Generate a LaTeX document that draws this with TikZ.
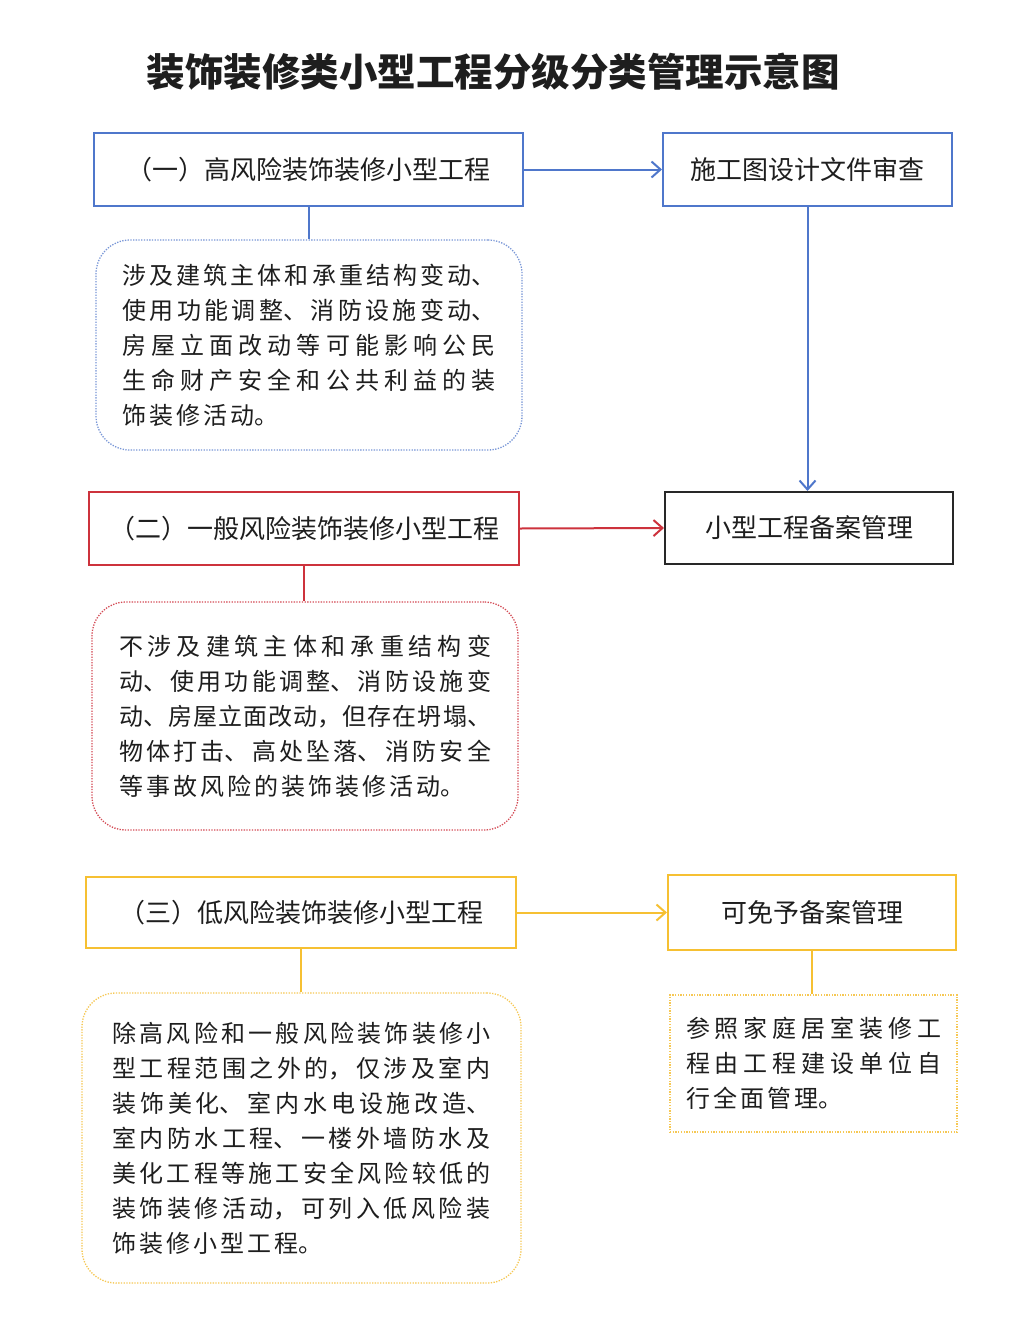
\documentclass[tikz,border=0pt]{standalone}
\usepackage{fontspec}
\newfontfamily\cjk{Noto Sans CJK SC}
\usetikzlibrary{arrows.meta}

\definecolor{blueline}{RGB}{79,119,203}
\definecolor{bluedot}{RGB}{120,150,215}
\definecolor{redline}{RGB}{205,50,60}
\definecolor{reddot}{RGB}{212,75,85}
\definecolor{yellowline}{RGB}{246,192,50}
\definecolor{yellowdot}{RGB}{246,200,85}
\definecolor{blackline}{RGB}{40,40,40}
\definecolor{textgray}{RGB}{30,30,30}

% fonts for the title, the boxes and the notes
\newcommand\titlefont{\cjk\bfseries\fontsize{38.5}{42}\selectfont}
\newcommand\headfont{\cjk\fontsize{26}{30}\selectfont}
\newcommand\notefont{\cjk\fontsize{24}{35}\selectfont
  \XeTeXlinebreaklocale "zh"\XeTeXlinebreakskip=3pt plus 6pt minus 3pt\relax
  \tolerance=9999\relax}

\begin{document}
\begin{tikzpicture}[x=1pt, y=-1pt,
  head/.style={draw, line width=2pt, rectangle, inner sep=0pt, font=\headfont, text=textgray},
  note/.style={draw, line width=1.3pt, dash pattern=on 1.3pt off 1.4pt, rounded corners=34pt,
    inner sep=0pt, font=\notefont, text=textgray, align=justify},
  link/.style={line width=2pt},
  flow/.style={line width=2pt, -{Straight Barb[length=9pt,width=16pt]}}]
\useasboundingbox[fill=white] (0,0) rectangle (1024,1322);

\node[font=\titlefont, text=textgray] (title) at (493,72) {装饰装修类小型工程分级分类管理示意图};

% high risk
\node[head, draw=blueline, minimum width=429pt, minimum height=73pt] (highbox) at (308.5,169.5) {（一）高风险装饰装修小型工程};
\node[head, draw=blueline, minimum width=289pt, minimum height=73pt] (planbox) at (807.5,169.5) {施工图设计文件审查};
\node[note, draw=bluedot, minimum width=426pt, minimum height=210pt, text width=373pt] (hightext) at (309,345) {涉及建筑主体和承重结构变动、\linebreak
使用功能调整、消防设施变动、\linebreak
房屋立面改动等可能影响公民\linebreak
生命财产安全和公共利益的装\linebreak
饰装修活动。};

% general risk
\node[head, draw=redline, minimum width=430pt, minimum height=73pt] (midbox) at (304,528.5) {（二）一般风险装饰装修小型工程};
\node[head, draw=blackline, minimum width=288pt, minimum height=72pt] (recordbox) at (809,528) {小型工程备案管理};
\node[note, draw=reddot, minimum width=426pt, minimum height=228pt, text width=372pt] (midtext) at (305,716) {不涉及建筑主体和承重结构变\linebreak
动、使用功能调整、消防设施变\linebreak
动、房屋立面改动，但存在坍塌、\linebreak
物体打击、高处坠落、消防安全\linebreak
等事故风险的装饰装修活动。};

% low risk
\node[head, draw=yellowline, minimum width=430pt, minimum height=71pt] (lowbox) at (301,912.5) {（三）低风险装饰装修小型工程};
\node[head, draw=yellowline, minimum width=288pt, minimum height=75pt] (exemptbox) at (812,912.5) {可免予备案管理};
\node[note, draw=yellowdot, minimum width=439pt, minimum height=290pt, text width=378pt] (lowtext) at (301.5,1138) {除高风险和一般风险装饰装修小\linebreak
型工程范围之外的，仅涉及室内\linebreak
装饰美化、室内水电设施改造、\linebreak
室内防水工程、一楼外墙防水及\linebreak
美化工程等施工安全风险较低的\linebreak
装饰装修活动，可列入低风险装\linebreak
饰装修小型工程。};
\node[note, draw=yellowdot, rounded corners=0pt, minimum width=287pt, minimum height=137pt, text width=255pt] (exempttext) at (813.5,1063.5) {参照家庭居室装修工\linebreak
程由工程建设单位自\linebreak
行全面管理。};

% connectors
\draw[flow, blueline] (highbox.east) -- (planbox.west);
\draw[flow, blueline] (planbox.south) -- (planbox.south |- recordbox.north);
\draw[flow, redline] (midbox.east) -- (recordbox.west);
\draw[flow, yellowline] (lowbox.east) -- (exemptbox.west);
\draw[link, blueline] (highbox.south) -- (highbox.south |- hightext.north);
\draw[link, redline] (midbox.south) -- (midbox.south |- midtext.north);
\draw[link, yellowline] (lowbox.south) -- (lowbox.south |- lowtext.north);
\draw[link, yellowline] (exemptbox.south) -- (exemptbox.south |- exempttext.north);
\end{tikzpicture}
\end{document}
